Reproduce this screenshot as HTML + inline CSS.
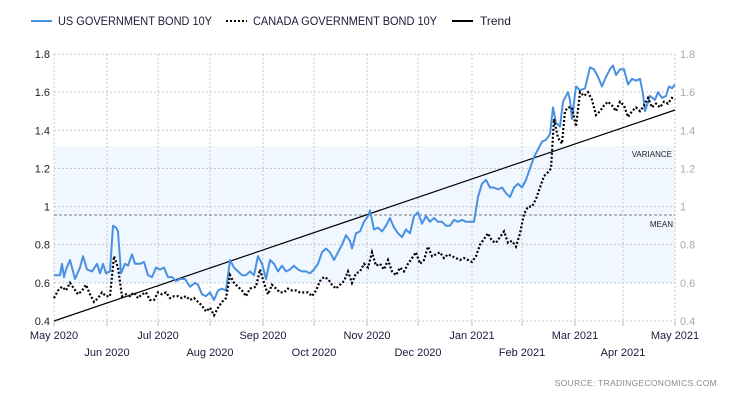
<!DOCTYPE html>
<html><head><meta charset="utf-8"><style>
html,body{margin:0;padding:0;background:#fff;width:730px;height:400px;overflow:hidden}
svg{display:block;font-family:"Liberation Sans",sans-serif}
</style></head><body>
<svg id="c" width="730" height="400" xmlns="http://www.w3.org/2000/svg">
<rect x="54" y="146" width="621" height="137" fill="#f0f7fe"/>
<g id="grid" stroke="#c8c8c8" stroke-width="1" stroke-dasharray="2,2"></g>
<line x1="54" y1="215" x2="675" y2="215" stroke="#777" stroke-dasharray="3,2"/>
<text x="672" y="157" font-size="8" fill="#222" text-anchor="end">VARIANCE</text>
<text x="673" y="227" font-size="8" fill="#222" text-anchor="end">MEAN</text>
<line x1="54" y1="321" x2="675" y2="110" stroke="#000" stroke-width="1.2"/>
<polyline id="us" fill="none" stroke="#4a90e2" stroke-width="2" stroke-linejoin="round"/>
<polyline id="ca" fill="none" stroke="#000" stroke-width="2.2" stroke-dasharray="2,2"/>
<g id="lab" font-size="11"></g>
<line x1="31" y1="21" x2="52" y2="21" stroke="#4a90e2" stroke-width="2"/>
<text x="58" y="25" font-size="12" fill="#1a1a3a" textLength="154" lengthAdjust="spacingAndGlyphs">US GOVERNMENT BOND 10Y</text>
<line x1="226" y1="21" x2="247" y2="21" stroke="#000" stroke-width="2" stroke-dasharray="2,2"/>
<text x="253" y="25" font-size="12" fill="#1a1a3a" textLength="184" lengthAdjust="spacingAndGlyphs">CANADA GOVERNMENT BOND 10Y</text>
<line x1="452" y1="21" x2="473" y2="21" stroke="#000" stroke-width="2"/>
<text x="480" y="25" font-size="12" fill="#1a1a3a">Trend</text>
<text x="717" y="386" font-size="8.5" fill="#888" text-anchor="end" letter-spacing="0.3">SOURCE:   TRADINGECONOMICS.COM</text>
</svg>
<script>
(function(){
var NS="http://www.w3.org/2000/svg";
function y(v){return 321-(v-0.4)*190.7;}
function el(p,t,a,txt){var e=document.createElementNS(NS,t);for(var k in a)e.setAttribute(k,a[k]);if(txt)e.textContent=txt;p.appendChild(e);return e;}
var g=document.getElementById('grid'),lab=document.getElementById('lab');
var xs=[54,107,158,210,263,314,367,418,472,522,575,623,675];
xs.forEach(function(x){el(g,'line',{x1:x,y1:54,x2:x,y2:321});el(lab,'line',{x1:x,y1:321,x2:x,y2:326,stroke:'#bbb'});});
[0.4,0.6,0.8,1,1.2,1.4,1.6,1.8].forEach(function(v){el(g,'line',{x1:54,y1:y(v),x2:675,y2:y(v)});
var s=(v==1?'1':v.toFixed(1));
el(lab,'text',{x:50,y:y(v)+4,'text-anchor':'end',fill:'#222'},s);
el(lab,'text',{x:680,y:y(v)+4,fill:'#aaa'},s);});
var tl=['May 2020','Jul 2020','Sep 2020','Nov 2020','Jan 2021','Mar 2021','May 2021'];
var bl=['Jun 2020','Aug 2020','Oct 2020','Dec 2020','Feb 2021','Apr 2021'];
tl.forEach(function(t,i){el(lab,'text',{x:xs[i*2],y:339,'text-anchor':'middle',fill:'#1a1a3a'},t);});
bl.forEach(function(t,i){el(lab,'text',{x:xs[i*2+1],y:356,'text-anchor':'middle',fill:'#1a1a3a'},t);});
var us=[54,0.64,60,0.64,62,0.70,64,0.63,66,0.67,70,0.72,75,0.62,80,0.68,83,0.74,87,0.67,92,0.66,97,0.70,100,0.65,103,0.70,106,0.65,110,0.66,113,0.90,116,0.89,118,0.87,121,0.65,125,0.70,128,0.69,132,0.75,135,0.70,140,0.70,144,0.71,148,0.64,152,0.63,156,0.68,160,0.67,164,0.68,168,0.63,172,0.63,176,0.61,180,0.62,185,0.62,190,0.58,195,0.60,198,0.59,202,0.54,206,0.53,210,0.55,214,0.51,218,0.56,222,0.57,226,0.56,230,0.72,234,0.68,238,0.66,242,0.64,246,0.64,250,0.66,254,0.64,258,0.74,262,0.70,266,0.62,270,0.72,274,0.70,278,0.66,282,0.69,286,0.66,290,0.67,294,0.69,298,0.67,302,0.66,306,0.66,310,0.65,314,0.67,318,0.70,322,0.76,326,0.78,330,0.76,334,0.72,338,0.76,342,0.80,346,0.85,350,0.82,352,0.78,356,0.86,360,0.87,364,0.92,368,0.95,370,0.98,374,0.88,378,0.89,382,0.87,386,0.90,390,0.94,394,0.89,398,0.86,402,0.84,406,0.88,410,0.86,414,0.95,418,0.97,422,0.91,426,0.95,430,0.92,434,0.94,438,0.92,442,0.92,446,0.90,450,0.90,454,0.93,458,0.92,462,0.93,466,0.92,470,0.92,474,0.92,478,1.05,482,1.12,486,1.14,490,1.10,494,1.10,498,1.09,502,1.10,506,1.07,510,1.05,514,1.10,518,1.12,522,1.10,526,1.14,530,1.20,534,1.26,538,1.30,542,1.34,546,1.35,550,1.38,553,1.52,556,1.44,560,1.42,563,1.55,568,1.60,570,1.56,572,1.46,576,1.63,580,1.61,585,1.62,590,1.73,594,1.72,598,1.68,602,1.63,606,1.68,610,1.72,613,1.74,616,1.69,620,1.72,624,1.72,628,1.64,632,1.67,636,1.66,640,1.67,643,1.59,645,1.50,650,1.58,655,1.56,658,1.60,662,1.57,666,1.58,669,1.63,672,1.62,675,1.64];
var ca=[54,0.52,58,0.56,62,0.58,66,0.56,70,0.60,74,0.57,78,0.54,82,0.56,86,0.59,90,0.54,94,0.50,98,0.52,102,0.55,106,0.53,110,0.53,114,0.74,118,0.68,122,0.53,126,0.54,130,0.53,134,0.55,138,0.52,142,0.54,146,0.55,150,0.51,154,0.51,158,0.55,162,0.54,166,0.55,170,0.52,174,0.53,178,0.53,182,0.52,186,0.53,190,0.51,194,0.52,198,0.50,202,0.48,206,0.45,210,0.47,214,0.43,218,0.47,222,0.50,226,0.52,230,0.64,234,0.60,238,0.58,242,0.56,246,0.53,250,0.57,256,0.58,260,0.67,264,0.60,268,0.54,272,0.59,276,0.57,280,0.55,284,0.55,288,0.57,292,0.56,296,0.56,300,0.55,304,0.55,308,0.55,312,0.53,316,0.56,320,0.61,324,0.63,328,0.62,332,0.59,336,0.57,340,0.59,344,0.61,348,0.66,352,0.60,356,0.65,360,0.66,364,0.70,368,0.68,372,0.76,376,0.69,380,0.70,384,0.67,388,0.72,392,0.66,396,0.64,400,0.68,404,0.66,408,0.70,412,0.73,416,0.76,420,0.70,424,0.72,428,0.79,432,0.74,436,0.75,440,0.76,444,0.73,448,0.75,452,0.74,456,0.73,460,0.72,464,0.73,468,0.72,472,0.71,476,0.74,480,0.80,484,0.83,488,0.86,492,0.82,496,0.81,500,0.84,504,0.87,508,0.81,512,0.82,516,0.79,520,0.86,524,0.96,528,1.00,532,1.00,536,1.04,540,1.10,544,1.16,548,1.18,551,1.20,554,1.46,558,1.36,562,1.33,565,1.50,568,1.52,572,1.52,576,1.42,580,1.60,584,1.58,588,1.60,592,1.56,596,1.48,600,1.50,604,1.53,608,1.55,612,1.53,616,1.50,620,1.55,624,1.53,628,1.47,632,1.50,636,1.52,640,1.50,644,1.53,648,1.57,652,1.52,656,1.54,660,1.52,664,1.55,668,1.54,672,1.57,675,1.56];
function pts(a){var s=[];for(var i=0;i<a.length;i+=2)s.push(a[i]+','+y(a[i+1]).toFixed(1));return s.join(' ');}
document.getElementById('us').setAttribute('points',pts(us));
document.getElementById('ca').setAttribute('points',pts(ca));
})();
</script>
</body></html>
